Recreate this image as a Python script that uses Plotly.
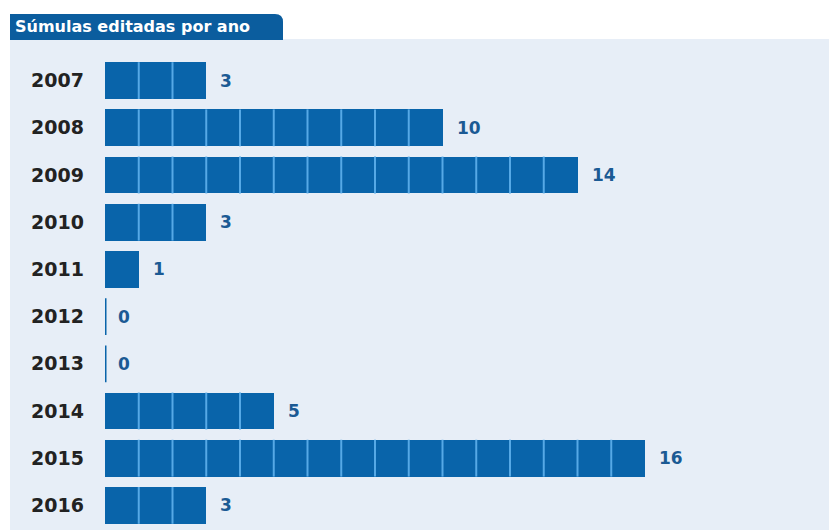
import plotly.graph_objects as go

years = ["2007", "2008", "2009", "2010", "2011", "2012", "2013", "2014", "2015", "2016"]
counts = [3, 10, 14, 3, 1, 0, 0, 5, 16, 3]
title_text = "Súmulas editadas por ano"

W, H = 829, 530
ML, MR, MT, MB = 105, 0, 57, 1
PW, PH = W - ML - MR, H - MT - MB
UNIT_PX = 33.75
BAR_W = 0.78

BAR = "#0964aa"
SEP = "#56a9e6"
PANEL = "#e7eef7"
TAB = "#0b5d9e"
VAL = "#1b5a94"
YEARC = "#222222"
FONT = "DejaVu Sans"

def px_x(p):
    return (p - ML) / PW

def px_y(p):
    return (H - MB - p) / PH

idx = list(range(len(years)))
fig = go.Figure()

# main bars
fig.add_trace(go.Bar(
    x=counts, y=idx, orientation="h", width=BAR_W,
    marker=dict(color=BAR, line=dict(width=0)), hoverinfo="skip", showlegend=False))

# unit separators
sx, sy = [], []
for i, v in zip(idx, counts):
    for k in range(1, v):
        sx += [k, k, None]
        sy += [i - BAR_W / 2, i + BAR_W / 2, None]
fig.add_trace(go.Scatter(x=sx, y=sy, mode="lines", line=dict(color=SEP, width=2),
                         hoverinfo="skip", showlegend=False))

# zero markers
zx, zy = [], []
for i, v in zip(idx, counts):
    if v == 0:
        zx += [0, 0, None]
        zy += [i - BAR_W / 2, i + BAR_W / 2, None]
fig.add_trace(go.Scatter(x=zx, y=zy, mode="lines", line=dict(color=BAR, width=3),
                         hoverinfo="skip", showlegend=False, cliponaxis=False))

annotations = []
for i, v in zip(idx, counts):
    annotations.append(dict(x=v, y=i, xref="x", yref="y", text=str(v), showarrow=False,
                            xanchor="left", xshift=12 if v > 0 else 11,
                            font=dict(family=FONT, size=17, color=VAL, weight="bold")))

# title tab text
annotations.append(dict(x=px_x(13), y=px_y(27), xref="paper", yref="paper", text=title_text,
                        showarrow=False, xanchor="left", yanchor="middle",
                        font=dict(family=FONT, size=16, color="white", weight="bold")))

shapes = [
    dict(type="rect", xref="paper", yref="paper", x0=px_x(10), x1=px_x(W), y0=px_y(39), y1=px_y(H),
         fillcolor=PANEL, line=dict(width=0), layer="below"),
]
# tab with rounded top-right corner
x0, x1, yt, yb, r = px_x(10), px_x(283), px_y(14), px_y(40), 8
rx, ry = r / PW, r / PH
path = (f"M {x0},{yb} L {x0},{yt} L {x1 - rx},{yt} "
        f"Q {x1},{yt} {x1},{yt - ry} L {x1},{yb} Z")
shapes.append(dict(type="path", xref="paper", yref="paper", path=path,
                   fillcolor=TAB, line=dict(width=0), layer="above"))

fig.update_layout(
    width=W, height=H,
    margin=dict(l=ML, r=MR, t=MT, b=MB),
    paper_bgcolor="white", plot_bgcolor=PANEL,
    bargap=0,
    xaxis=dict(range=[0, PW / UNIT_PX], showgrid=False, zeroline=False, showticklabels=False,
               showline=False, ticks=""),
    yaxis=dict(range=[len(years) - 0.5, -0.5], tickmode="array", tickvals=idx, ticktext=years,
               showgrid=False, zeroline=False, showline=False, ticks="", ticklabelstandoff=20,
               tickfont=dict(family=FONT, size=19, color=YEARC, weight="bold")),
    annotations=annotations, shapes=shapes,
)

fig.write_html("out.html")
